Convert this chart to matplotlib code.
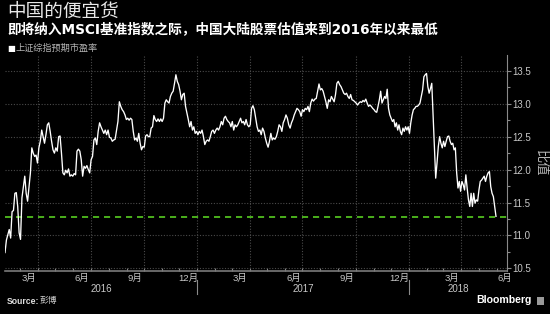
import matplotlib
matplotlib.use("Agg")
import matplotlib.pyplot as plt
import matplotlib.dates as mdates
import matplotlib.transforms as mtransforms
from matplotlib.patches import Rectangle
from matplotlib.ticker import MultipleLocator, FuncFormatter
import numpy as np
import pandas as pd

DPI = 100

# PE ratio readings, split into four stretches (each spread evenly over its date span)
seg_bounds = ["2016-02-04", "2016-08-29", "2017-04-02", "2017-11-04", "2018-05-31"]

seg1 = [10.74, 10.93, 11.01, 11.09, 10.96, 11.36, 11.38, 11.64, 11.65, 11.44, 11.04, 10.94,
        11.57, 11.74, 11.90, 11.64, 11.52, 11.74, 11.95, 12.33, 12.25, 12.20, 12.22, 12.10,
        12.33, 12.43, 12.60, 12.50, 12.40, 12.53, 12.68, 12.71, 12.58, 12.43, 12.30, 12.25,
        12.33, 12.28, 12.50, 12.51, 12.25, 11.95, 11.92, 11.99, 11.95, 12.01, 11.90, 11.92,
        11.90, 11.94, 11.92, 12.28, 12.31, 12.28, 12.15, 11.90, 12.05, 12.02, 12.06, 12.00,
        11.95, 12.15, 12.20, 12.45, 12.48, 12.38, 12.58, 12.71, 12.65, 12.60, 12.55, 12.60,
        12.53, 12.60, 12.49, 12.48, 12.43, 12.45, 12.46, 12.60, 12.73, 13.03, 12.96, 12.91,
        12.88, 12.83]
seg2 = [12.76, 12.78, 12.75, 12.78, 12.76, 12.58, 12.45, 12.48, 12.43, 12.55, 12.40, 12.30,
        12.35, 12.34, 12.51, 12.53, 12.50, 12.50, 12.63, 12.65, 12.82, 12.76, 12.73, 12.77,
        12.73, 12.77, 12.73, 12.78, 13.01, 13.06, 13.03, 13.01, 13.11, 13.16, 13.19, 13.31,
        13.44, 13.34, 13.29, 13.19, 13.06, 13.14, 13.16, 12.96, 12.86, 12.76, 12.65, 12.73,
        12.60, 12.65, 12.55, 12.58, 12.53, 12.58, 12.55, 12.60, 12.50, 12.38, 12.43, 12.45,
        12.43, 12.50, 12.58, 12.60, 12.55, 12.60, 12.63, 12.60, 12.65, 12.73, 12.68, 12.78,
        12.81, 12.76, 12.73, 12.71, 12.65, 12.73, 12.60, 12.68, 12.65, 12.68, 12.73, 12.78,
        12.71, 12.73, 12.68, 12.76, 12.68, 12.65, 12.68]
seg3 = [12.93, 12.97, 12.91, 12.78, 12.65, 12.58, 12.60, 12.53, 12.63, 12.58, 12.48, 12.40,
        12.34, 12.43, 12.55, 12.45, 12.48, 12.46, 12.50, 12.58, 12.68, 12.65, 12.58, 12.71,
        12.76, 12.83, 12.78, 12.68, 12.63, 12.71, 12.76, 12.83, 12.88, 12.93, 12.91, 12.88,
        12.81, 12.91, 12.88, 12.93, 12.91, 12.96, 12.88, 13.01, 13.07, 13.04, 13.07, 13.08,
        13.19, 13.30, 13.21, 13.23, 13.19, 13.11, 13.03, 12.93, 13.06, 13.03, 13.11, 13.07,
        13.03, 13.14, 13.31, 13.34, 13.29, 13.26, 13.21, 13.16, 13.14, 13.16, 13.11, 13.08,
        13.14, 13.06, 13.05, 13.03, 13.01, 12.98, 13.01, 13.03, 13.02, 13.05, 13.03, 13.07,
        13.01, 12.96, 12.98, 12.96, 12.93, 12.91, 12.88]
seg4 = [12.87, 12.96, 13.06, 13.19, 13.01, 13.06, 13.11, 13.08, 13.22, 12.93, 12.83, 12.78,
        12.73, 12.76, 12.65, 12.71, 12.60, 12.68, 12.58, 12.53, 12.63, 12.58, 12.65, 12.60,
        12.65, 12.55, 12.71, 12.83, 12.91, 12.93, 12.96, 12.96, 12.98, 13.01, 13.11, 13.21,
        13.41, 13.44, 13.46, 13.26, 13.16, 13.23, 13.31, 12.81, 12.35, 11.87, 12.10, 12.35,
        12.50, 12.40, 12.33, 12.43, 12.35, 12.43, 12.50, 12.51, 12.43, 12.38, 12.40, 12.30,
        12.33, 11.95, 11.72, 11.82, 11.67, 11.82, 11.77, 11.69, 11.92, 11.72, 11.54, 11.44,
        11.64, 11.44, 11.64, 11.49, 11.54, 11.52, 11.69, 11.82, 11.84, 11.87, 11.90, 11.82,
        11.90, 11.95, 11.97, 11.74, 11.64, 11.59, 11.44, 11.29]

low_level = 11.28  # 2016 low reference line

title = "中国的便宜货"
subtitle = "即将纳入MSCI基准指数之际，中国大陆股票估值来到2016年以来最低"
legend_label = "上证综指预期市盈率"
y_label = "比值"
source_label = "Source:"
source_name = "彭博"
years = ["2016", "2017", "2018"]

CJK = "Noto Sans CJK SC"
plt.rcParams['font.family'] = ['Liberation Sans', CJK]

# build date axis for the series
dates, values = [], []
for i, seg in enumerate([seg1, seg2, seg3, seg4]):
    a = mdates.datestr2num(seg_bounds[i])
    b = mdates.datestr2num(seg_bounds[i + 1])
    if i == 0:
        xs = np.linspace(a, b, len(seg))
    else:
        xs = np.linspace(a, b, len(seg) + 1)[1:]
    dates.extend(xs)
    values.extend(seg)

fig = plt.figure(figsize=(550 / DPI, 314 / DPI), dpi=DPI, facecolor='black')
ax = fig.add_axes([5 / 550, 43 / 314, 502 / 550, 216 / 314])
ax.set_facecolor('black')

grid_c = '#4a4a4a'
ax.plot(dates, values, color='white', lw=0.95, zorder=3)
ax.axhline(low_level, color='#5fe024', lw=1.1, ls=(0, (4, 3.2)), zorder=2)

x0 = mdates.datestr2num("2016-02-04")
x1 = mdates.datestr2num("2018-06-19")
ax.set_xlim(x0, x1)
ax.set_ylim(10.46, 13.74)

# y axis on the right
ax.yaxis.tick_right()
ax.yaxis.set_major_locator(MultipleLocator(0.5))
ax.yaxis.set_minor_locator(MultipleLocator(0.25))
ax.yaxis.set_major_formatter(FuncFormatter(lambda v, p: f"{v:.1f}"))
ax.tick_params(axis='y', which='major', length=3, width=0.8, color='#8a8a8a',
               labelcolor='#c8c8c8', labelsize=7, pad=1)
ax.tick_params(axis='y', which='minor', length=2, width=0.8, color='#8a8a8a')
ax.grid(axis='y', which='major', color=grid_c, ls=(0, (1, 1.5)), lw=0.8)

# quarterly vertical grid
for q in pd.date_range("2016-04-01", "2018-04-01", freq='QS'):
    ax.axvline(mdates.date2num(q), color=grid_c, ls=(0, (1, 1.5)), lw=0.8, zorder=1)

# month ticks along the bottom
ax.xaxis.set_major_locator(mdates.MonthLocator(bymonth=(3, 6, 9, 12), bymonthday=16))
ax.xaxis.set_major_formatter(FuncFormatter(lambda v, p: f"{mdates.num2date(v).month}月"))
ax.xaxis.set_minor_locator(mdates.MonthLocator())
ax.tick_params(axis='x', which='major', length=0, labelcolor='#c8c8c8', labelsize=6.8, pad=2)
ax.tick_params(axis='x', which='minor', length=2.5, width=0.8, color='#8a8a8a', direction='in')

for side in ['top', 'left']:
    ax.spines[side].set_visible(False)
ax.spines['right'].set_color('#8a8a8a')
ax.spines['bottom'].set_color('#7a7a7a')
ax.spines['bottom'].set_linewidth(1.2)

trans = mtransforms.blended_transform_factory(ax.transData, ax.transAxes)
year_edges = [x0, mdates.datestr2num("2017-01-01"), mdates.datestr2num("2018-01-01"), x1]
for i, yr in enumerate(years):
    mid = (year_edges[i] + year_edges[i + 1]) / 2
    ax.text(mid, -0.085, yr, transform=trans, ha='center', va='center',
            color='#c8c8c8', fontsize=7)
for d in year_edges[1:3]:
    ax.plot([d, d], [-0.04, -0.105], transform=trans, color='#8a8a8a', lw=0.8, clip_on=False)

# header texts
fig.text(7 / 550, 1 - 12 / 314, title, family=[CJK], fontsize=13.4, fontweight='light',
         color='#e8e8e8', va='center', ha='left')
fig.text(7 / 550, 1 - 29 / 314, subtitle, family=['DejaVu Sans', CJK], fontsize=9.8,
         fontweight='bold', color='white', va='center', ha='left')
fig.text(7 / 550, 1 - 48 / 314, "■", family=['DejaVu Sans'], fontsize=6, color='white',
         va='center', ha='left')
fig.text(15 / 550, 1 - 48 / 314, legend_label, family=[CJK], fontsize=6.6, color='#b4b4b4',
         va='center', ha='left')
fig.text(541 / 550, 1 - 163 / 314, y_label, family=[CJK], fontsize=9.5, color='#b8b8b8',
         rotation=270, va='center', ha='center')

# footer
fig.text(7 / 550, 1 - 301 / 314, source_label, fontsize=6.2, fontweight='bold',
         color='#e0e0e0', va='center', ha='left')
fig.text(40 / 550, 1 - 301 / 314, source_name, family=[CJK], fontsize=6.3,
         color='#d0d0d0', va='center', ha='left')
fig.text(532 / 550, 1 - 300 / 314, "Bloomberg", fontsize=7.6, fontweight='bold',
         color='white', va='center', ha='right')
fig.patches.append(Rectangle((537 / 550, 1 - 305 / 314), 7 / 550, 8 / 314,
                             transform=fig.transFigure, facecolor='#9a9a9a', edgecolor='none'))

fig.savefig('out.png', dpi=DPI, facecolor='black')
